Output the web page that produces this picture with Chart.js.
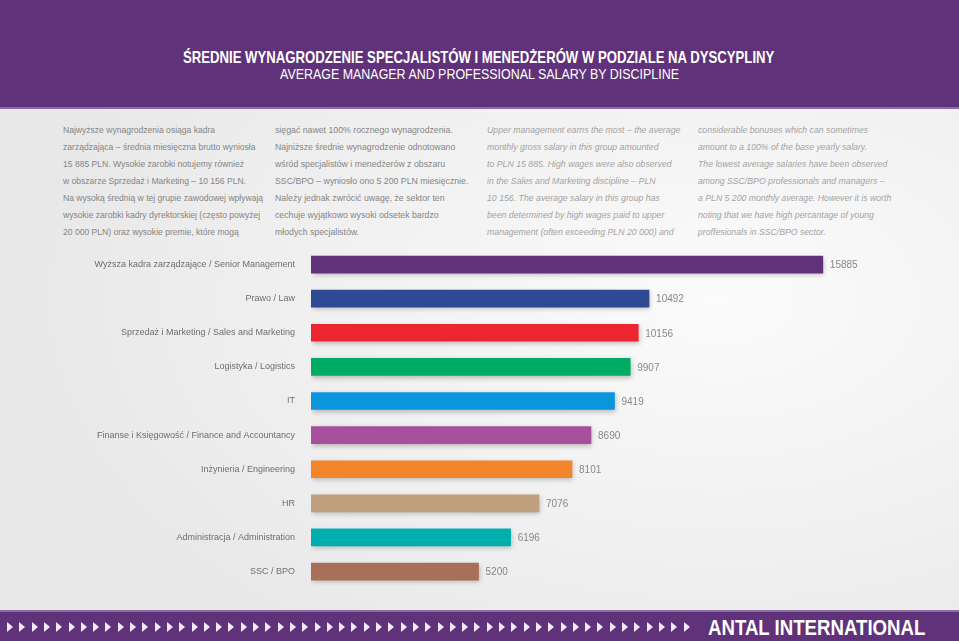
<!DOCTYPE html>
<html>
<head>
<meta charset="utf-8">
<script src="https://cdn.jsdelivr.net/npm/chart.js@4/dist/chart.umd.min.js"></script>
<style>
  html, body { margin: 0; padding: 0; }
  body {
    width: 959px; height: 641px; position: relative; overflow: hidden;
    background: radial-gradient(ellipse 700px 420px at 720px 300px, #fbfbfb 0%, #f0f0f0 60%, #e8e8e8 100%);
    font-family: "Liberation Sans", Arial, sans-serif;
  }
  .fit { position: absolute; white-space: nowrap; line-height: 1; }
  .header {
    position: absolute; left: 0; top: 0; width: 959px; height: 107px;
    background: #5f3279; border-bottom: 2px solid #8c6da3; color: #fff;
  }
  .header .t1 { top: 49px; font-size: 17px; font-weight: bold; }
  .header .t2 { top: 66px; font-size: 15px; }
  .col {
    position: absolute; top: 121px; font-size: 9.5px; line-height: 17px; color: #858585;
    white-space: nowrap; transform-origin: 0 0;
  }
  .col.en { font-style: italic; color: #a3a3a3; }
  .footer {
    position: absolute; left: 0; top: 610px; width: 959px; height: 29px;
    background: #5f3279; border-top: 2px solid #8c6da3; color: #fff;
  }
  .footer .brand { left: 708px; top: 5px; font-size: 22.5px; font-weight: bold; }
  .tri {
    position: absolute; top: 10px; width: 0; height: 0;
    border-left: 6px solid #f3eaf7; border-top: 5px solid transparent; border-bottom: 5px solid transparent;
  }
  #chartWrap { position: absolute; left: 0; top: 240px; width: 959px; height: 360px; }
</style>
</head>
<body>
<div class="header">
  <div class="fit t1" data-w="591" data-x="183">ŚREDNIE WYNAGRODZENIE SPECJALISTÓW I MENEDŻERÓW W PODZIALE NA DYSCYPLINY</div>
  <div class="fit t2" data-w="399" data-x="280">AVERAGE MANAGER AND PROFESSIONAL SALARY BY DISCIPLINE</div>
</div>

<div class="col" style="left:63px; transform: scaleX(0.9)">Najwyższe wynagrodzenia osiąga kadra<br>zarządzająca – średnia miesięczna brutto wyniosła<br>15 885 PLN. Wysokie zarobki notujemy również<br>w obszarze Sprzedaż i Marketing – 10 156 PLN.<br>Na wysoką średnią w tej grupie zawodowej wpływają<br>wysokie zarobki kadry dyrektorskiej (często powyżej<br>20 000 PLN) oraz wysokie premie, które mogą</div>
<div class="col" style="left:275px; transform: scaleX(0.92)">sięgać nawet 100% rocznego wynagrodzenia.<br>Najniższe średnie wynagrodzenie odnotowano<br>wśród specjalistów i menedżerów z obszaru<br>SSC/BPO – wyniosło ono 5 200 PLN miesięcznie.<br>Należy jednak zwrócić uwagę, że sektor ten<br>cechuje wyjątkowo wysoki odsetek bardzo<br>młodych specjalistów.</div>
<div class="col en" style="left:487px; transform: scaleX(0.92)">Upper management earns the most – the average<br>monthly gross salary in this group amounted<br>to PLN 15 885. High wages were also observed<br>in the Sales and Marketing discipline – PLN<br>10 156. The average salary in this group has<br>been determined by high wages paid to upper<br>management (often exceeding PLN 20 000) and</div>
<div class="col en" style="left:698px; transform: scaleX(0.915)">considerable bonuses which can sometimes<br>amount to a 100% of the base yearly salary.<br>The lowest average salaries have been observed<br>among SSC/BPO professionals and managers –<br>a PLN 5 200 monthly average. However it is worth<br>noting that we have high percantage of young<br>proffesionals in SSC/BPO sector.</div>

<div id="chartWrap"><canvas id="salaryChart" width="959" height="360"></canvas></div>

<div class="footer" id="footer">
  <div class="fit brand" data-w="217" data-x="708">ANTAL INTERNATIONAL</div>
</div>

<script>
const categories = [
  'Wyższa kadra zarządzające / Senior Management',
  'Prawo / Law',
  'Sprzedaż i Marketing / Sales and Marketing',
  'Logistyka / Logistics',
  'IT',
  'Finanse i Księgowość / Finance and Accountancy',
  'Inżynieria / Engineering',
  'HR',
  'Administracja / Administration',
  'SSC / BPO'
];
const salaries = [15885, 10492, 10156, 9907, 9419, 8690, 8101, 7076, 6196, 5200];
const barColors = ['#5f3279', '#2e4a93', '#ec2630', '#00ab66', '#0b96dc',
                   '#a7509e', '#f3862a', '#c0a07e', '#00afad', '#a8705a'];

// squeeze header/footer text to the condensed widths of the original
document.querySelectorAll('.fit').forEach(el => {
  const w = el.scrollWidth;
  el.style.left = el.dataset.x + 'px';
  el.style.transformOrigin = '0 0';
  el.style.transform = 'scaleX(' + (el.dataset.w / w) + ')';
});

// row of little arrows in the footer
const footer = document.getElementById('footer');
for (let x = 7; x < 690; x += 12.3) {
  const t = document.createElement('div');
  t.className = 'tri';
  t.style.left = x + 'px';
  footer.appendChild(t);
}

// soft drop shadow under the bars
const barShadow = {
  id: 'barShadow',
  beforeDatasetsDraw(chart) {
    const ctx = chart.ctx;
    ctx.save();
    ctx.shadowColor = 'rgba(0,0,0,0.25)';
    ctx.shadowBlur = 5;
    ctx.shadowOffsetY = 2;
    ctx.shadowOffsetX = 1;
  },
  afterDatasetsDraw(chart) {
    chart.ctx.restore();
  }
};

// value printed right of each bar
const valueLabels = {
  id: 'valueLabels',
  afterDatasetsDraw(chart) {
    const ctx = chart.ctx;
    const meta = chart.getDatasetMeta(0);
    ctx.save();
    ctx.font = '10px "Liberation Sans", Arial, sans-serif';
    ctx.fillStyle = '#888';
    ctx.textAlign = 'left';
    ctx.textBaseline = 'middle';
    meta.data.forEach((bar, i) => {
      ctx.fillText(String(salaries[i]), bar.x + 7, bar.y + 1);
    });
    ctx.restore();
  }
};

const ctx = document.getElementById('salaryChart').getContext('2d');
new Chart(ctx, {
  type: 'bar',
  data: {
    labels: categories,
    datasets: [{
      data: salaries,
      backgroundColor: barColors,
      borderWidth: 0,
      barThickness: 17
    }]
  },
  options: {
    indexAxis: 'y',
    responsive: false,
    animation: false,
    devicePixelRatio: 1,
    layout: { padding: { top: 7.5, bottom: 11.4, left: 0, right: 68 } },
    plugins: { legend: { display: false }, tooltip: { enabled: false } },
    scales: {
      x: { display: false, min: 0, max: 18000 },
      y: {
        afterFit(scale) {
          scale.width = 311;
          scale.paddingTop = 0;
          scale.paddingBottom = 0;
        },
        grid: { display: false, drawTicks: false },
        border: { display: false },
        ticks: {
          padding: 16,
          color: '#6e6e6e',
          font: { family: '"Liberation Sans", Arial, sans-serif', size: 9 }
        }
      }
    }
  },
  plugins: [barShadow, valueLabels]
});
</script>
</body>
</html>
